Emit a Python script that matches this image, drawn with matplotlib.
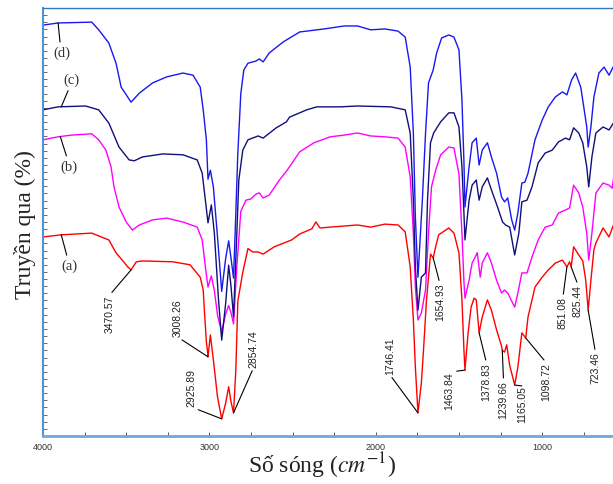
import matplotlib

matplotlib.use("Agg")
import matplotlib.pyplot as plt
import numpy as np
from matplotlib.ticker import MultipleLocator

plt.rcParams["mathtext.fontset"] = "stix"

# ---- spectra: wavenumber (cm-1) / transmittance (arb. %) ----
wn_a = [4000, 3890, 3707, 3604, 3561, 3524, 3490, 3470.57, 3439, 3402, 3220, 3116, 3055,
        3037, 3030, 3018, 3012, 3008.26, 2994, 2976, 2951, 2925.89, 2902, 2884, 2870,
        2854.74, 2841, 2829, 2799, 2768, 2740, 2707, 2677, 2610, 2506, 2457, 2384, 2360,
        2335, 2274, 2110, 2030, 1945, 1866, 1823, 1793, 1774, 1762, 1746.41, 1726, 1713,
        1695, 1671, 1654.93, 1640, 1622, 1561, 1530, 1500, 1482, 1470, 1463.84, 1445, 1427,
        1409, 1396, 1378.83, 1360, 1329, 1305, 1274, 1244, 1239.66, 1226, 1213, 1195,
        1165.05, 1146, 1122, 1098.72, 1085, 1043, 1000, 963, 921, 878, 851.08, 835,
        825.44, 811, 780, 756, 738, 723.46, 707, 689, 677, 634, 598, 567, 537]
t_a = [46.5, 47.0, 47.4, 45.8, 42.8, 41.1, 39.5, 38.8, 40.7, 40.9, 40.7, 40.0, 37.1,
       34.1, 29.4, 22.0, 20.1, 18.5, 23.6, 17.8, 9.1, 4.0, 7.7, 11.5, 8.0,
       5.4, 15.4, 31.5, 38.3, 43.8, 43.0, 43.0, 42.5, 44.2, 45.8, 47.2, 48.4, 50.0,
       48.6, 48.8, 49.3, 48.8, 49.5, 49.3, 47.7, 39.5, 27.1, 16.1, 5.4, 12.4, 20.1,
       31.8, 42.5, 41.6, 44.2, 47.0, 48.6, 47.4, 42.8, 31.8, 20.0, 15.4, 24.1, 30.1,
       32.2, 31.8, 24.1, 27.8, 31.8, 29.4, 24.8, 21.0, 20.0, 19.6, 21.3, 16.5,
       11.9, 16.1, 24.1, 22.9, 27.8, 34.8, 37.1, 38.8, 40.4, 41.1, 39.5, 40.7,
       39.5, 44.2, 42.3, 40.9, 36.4, 29.4, 36.4, 43.5, 45.1, 48.6, 46.5, 49.8, 50.0]

wn_b = [4000, 3909, 3829, 3707, 3665, 3622, 3591, 3573, 3543, 3500, 3463, 3421, 3341,
        3256, 3159, 3073, 3043, 3024, 3008.26, 2988, 2970, 2950, 2925.89, 2902, 2884,
        2868, 2854.74, 2835, 2811, 2780, 2750, 2720, 2700, 2677, 2640, 2579, 2540, 2518,
        2457, 2372, 2274, 2189, 2110, 2030, 1945, 1866, 1823, 1793, 1774, 1762, 1746.41,
        1726, 1701, 1683, 1665, 1640, 1610, 1561, 1530, 1500, 1482, 1470, 1463.84, 1439,
        1421, 1396, 1390, 1372, 1360, 1329, 1305, 1274, 1244, 1226, 1207, 1165.05, 1146,
        1122, 1091, 1061, 1024, 982, 939, 902, 860, 835, 811, 780, 756, 732, 720, 701,
        677, 634, 598, 579, 567, 537]
t_b = [69.2, 69.9, 70.3, 70.6, 69.2, 66.8, 62.9, 58.2, 53.5, 50.0, 48.1, 49.3, 50.5,
       50.9, 50.0, 48.8, 45.8, 39.5, 34.8, 37.4, 34.0, 28.0, 24.3, 28.5, 30.5,
       28.5, 26.2, 39.5, 52.5, 55.1, 55.4, 56.5, 56.8, 55.6, 56.3, 59.8, 61.7, 62.9,
       66.4, 68.5, 69.9, 70.3, 70.8, 70.1, 69.9, 69.6, 67.5, 60.5, 47.4, 34.8, 27.1,
       28.7, 34.1, 47.4, 58.2, 62.1, 65.7, 67.5, 67.3, 61.2, 47.4, 36.0, 32.2, 36.4,
       40.4, 42.3, 42.8, 37.1, 40.4, 42.8, 40.4, 36.4, 33.4, 34.1, 33.4, 30.1, 33.4,
       38.1, 38.1, 41.8, 45.8, 48.8, 49.3, 52.1, 52.8, 53.3, 58.6, 56.8, 53.5, 47.4, 41.1, 47.4,
       56.8, 59.1, 58.6, 57.9, 61.4, 61.2]

wn_c = [4000, 3909, 3744, 3665, 3604, 3543, 3482, 3451, 3402, 3280, 3159, 3073, 3043,
        3024, 3008.26, 2988, 2970, 2945, 2925.89, 2902, 2884, 2870, 2854.74, 2835, 2823,
        2799, 2768, 2707, 2677, 2598, 2537, 2518, 2415, 2354, 2213, 2110, 1909, 1823,
        1793, 1774, 1762, 1746.41, 1726, 1701, 1689, 1671, 1652, 1610, 1561, 1530, 1500,
        1482, 1470, 1463.84, 1439, 1421, 1396, 1378.83, 1360, 1329, 1305, 1268, 1238,
        1220, 1195, 1165.05, 1140, 1122, 1091, 1061, 1024, 982, 939, 902, 860, 835, 811,
        780, 756, 732, 720, 701, 677, 634, 598, 567, 537]
t_c = [76.2, 76.9, 77.1, 76.2, 73.1, 67.5, 64.5, 64.3, 65.2, 65.9, 65.7, 64.5, 61.4,
       55.1, 49.8, 54.0, 47.4, 31.8, 22.4, 31.0, 39.9, 35.0, 27.8, 47.4, 59.8,
       66.8, 69.2, 70.1, 69.6, 72.0, 73.4, 74.5, 76.2, 76.9, 76.9, 77.1, 76.9, 76.2,
       70.8, 55.1, 39.5, 29.4, 37.1, 38.1, 55.1, 68.5, 70.8, 73.4, 75.5, 75.5, 72.2,
       62.9, 52.0, 45.8, 55.1, 58.6, 59.8, 55.1, 58.2, 60.3, 57.5, 53.5, 50.0,
       49.3, 48.8, 42.3, 47.4, 54.7, 55.1, 58.2, 63.8, 66.1, 66.8, 68.7, 69.6, 69.2, 72.0,
       70.8, 68.5, 62.9, 58.2, 65.2, 70.8, 72.2, 71.5, 73.4, 74.3]

wn_d = [4000, 3909, 3800, 3707, 3665, 3604, 3561, 3530, 3470.57, 3421, 3341, 3256, 3159,
        3098, 3055, 3037, 3018, 3008.26, 2994, 2976, 2950, 2925.89, 2902, 2884, 2868,
        2854.74, 2841, 2829, 2811, 2793, 2768, 2720, 2700, 2677, 2640, 2555, 2457, 2311,
        2189, 2110, 2030, 1945, 1866, 1823, 1793, 1774, 1762, 1746.41, 1720, 1701, 1683,
        1654.93, 1634, 1604, 1561, 1530, 1500, 1482, 1470, 1463.84, 1439, 1421, 1396,
        1378.83, 1360, 1329, 1305, 1274, 1244, 1226, 1207, 1183, 1165.05, 1146, 1122,
        1104, 1085, 1043, 1000, 963, 921, 878, 851.08, 823, 799, 768, 750, 732, 723.46,
        707, 689, 659, 628, 598, 567, 537]
t_d = [96.0, 96.5, 96.6, 96.7, 94.9, 91.8, 87.1, 81.5, 78.0, 80.1, 82.5, 83.9, 84.8,
       84.3, 81.5, 76.2, 69.2, 60.0, 62.1, 58.2, 46.0, 33.8, 41.5, 45.6, 41.0,
       36.9, 52.0, 66.0, 80.0, 85.5, 87.1, 87.6, 88.1, 87.4, 89.5, 92.1, 94.4, 95.1,
       95.8, 95.8, 94.9, 95.1, 94.6, 93.2, 86.2, 70.8, 51.2, 37.1, 55.1, 70.6, 82.5,
       85.5, 89.5, 93.0, 93.7, 93.2, 90.2, 78.5, 64.0, 53.5, 62.9, 68.5, 69.6,
       63.3, 66.8, 68.5, 65.2, 61.4, 55.8, 54.7, 55.6, 50.5, 48.1, 52.1, 59.1,
       59.3, 61.4, 69.2, 73.8, 76.9, 79.2, 80.4, 79.7, 83.2, 84.8, 81.5, 76.9, 72.2, 67.5,
       72.2, 79.2, 84.8, 86.2, 84.3, 86.7, 86.9]

peak_labels = ["3470.57", "3008.26", "2925.89", "2854.74", "1746.41", "1654.93", "1463.84",
               "1378.83", "1239.66", "1165.05", "1098.72", "851.08", "825.44", "723.46"]
curve_names = ["(a)", "(b)", "(c)", "(d)"]
curve_colors = ["#ff0000", "#ff00ff", "#10107a", "#1818f0"]

# label placement: (text x wn, text y, vertical anchor, connect at)
label_pos = {
    "3470.57": (3600, 32.9, "top"),
    "3008.26": (3190, 23.1, "bottom"),
    "2925.89": (3110, 6.8, "bottom"),
    "2854.74": (2735, 15.9, "bottom"),
    "1746.41": (1915, 14.3, "bottom"),
    "1654.93": (1615, 35.7, "top"),
    "1463.84": (1560, 14.9, "top"),
    "1378.83": (1335, 17.1, "top"),
    "1239.66": (1232, 12.9, "top"),
    "1165.05": (1122, 11.7, "top"),
    "1098.72": (975, 17.1, "top"),
    "851.08": (875, 32.5, "top"),
    "825.44": (785, 35.3, "top"),
    "723.46": (680, 19.6, "top"),
}

fig = plt.figure(figsize=(6.13, 4.84), dpi=100)
ax = fig.add_axes([0.0701, 0.0992, 0.94, 0.8843])

series = [(wn_a, t_a), (wn_b, t_b), (wn_c, t_c), (wn_d, t_d)]
for (w, t), c in zip(series, curve_colors):
    ax.plot(w, t, color=c, lw=1.0)

ax.set_xlim(4000, 537)
ax.set_ylim(0, 100)

# peak annotations on curve (a)
wa = np.array(wn_a)[::-1]
ta = np.array(t_a)[::-1]
for lab in peak_labels:
    wn = float(lab)
    y = np.interp(wn, wa, ta)
    tx, ty, va = label_pos[lab]
    rel = (0.5, 1.0) if va == "top" else (0.5, 0.0)
    ax.annotate(lab, xy=(wn, y), xytext=(tx, ty), rotation=90, ha="center", va=va,
                fontsize=7.5, family="Liberation Sans", color="#222222",
                arrowprops=dict(arrowstyle="-", color="black", lw=0.8,
                                shrinkA=0, shrinkB=0, relpos=rel))

# curve name labels with leader lines
name_pos = [(3890, 235 - 0, 3841, 39.7), (3896, 0, 3841, 62.9),
            (3890, 0, 3829, 83.2), (3909, 0, 3885, 89.5)]
for (w, t), name, (lw_, _, tx, ty) in zip(series, curve_names, name_pos):
    wr = np.array(w)[::-1]
    tr = np.array(t)[::-1]
    y = np.interp(lw_, wr, tr)
    rel = (0.4, 0.0) if name == "(c)" else (0.4, 1.0)
    ax.annotate(name, xy=(lw_, y), xytext=(tx, ty), ha="center", va="center",
                fontsize=10.5, family="Liberation Serif", color="#333333",
                arrowprops=dict(arrowstyle="-", color="black", lw=0.8,
                                shrinkA=1, shrinkB=0, relpos=rel))

ax.set_xticks([4000, 3000, 2000, 1000])
ax.xaxis.set_minor_locator(MultipleLocator(250))
ax.yaxis.set_major_locator(MultipleLocator(100 / 60))
ax.tick_params(axis="x", which="both", direction="in", length=3, width=0.7,
               colors="#555555", labelsize=6.5, pad=5, top=False)
ax.tick_params(axis="y", which="both", direction="in", length=3, width=0.6,
               colors="#555555", labelleft=False, right=False)
for t in ax.get_xticklabels():
    t.set_family("Liberation Sans")
    t.set_color("#333333")

ax.spines["right"].set_visible(False)
ax.spines["left"].set_color("#4f93d2")
ax.spines["left"].set_linewidth(1.5)
ax.spines["bottom"].set_color("#6fa8dc")
ax.spines["bottom"].set_linewidth(2.0)
ax.spines["top"].set_color("#2f78c4")
ax.spines["top"].set_linewidth(1.0)

fig.text(0.041, 0.535, "Truyền qua (%)", rotation=90, ha="center", va="center",
         fontsize=17, family="Liberation Serif", color="#222222")
fig.text(0.525, 0.037, r"Số sóng ($cm^{-1}$)", ha="center", va="center",
         fontsize=17, family="Liberation Serif", color="#222222")

fig.savefig("out.png", dpi=100)
